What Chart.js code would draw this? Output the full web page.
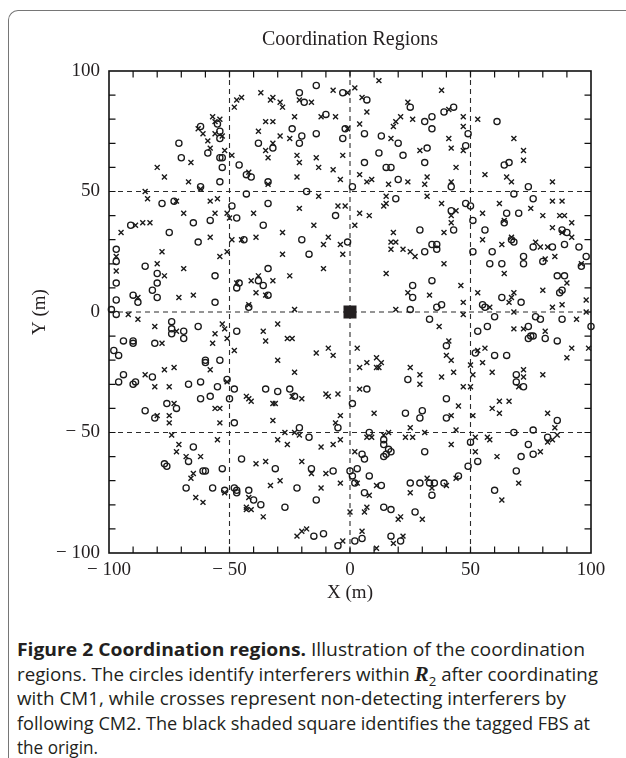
<!DOCTYPE html>
<html>
<head>
<meta charset="utf-8">
<script src="https://cdn.jsdelivr.net/npm/chart.js@4.4.0/dist/chart.umd.min.js"></script>
<style>
  html, body { margin: 0; padding: 0; background: #fff; }
  body { width: 626px; height: 758px; position: relative; overflow: hidden; }
  #frame {
    position: absolute; left: 8px; top: 10px; width: 700px; height: 800px;
    border-top: 1.5px solid #767676; border-left: 1.5px solid #767676;
    border-top-left-radius: 10px; box-sizing: border-box;
  }
  #chartBox { position: absolute; left: 0; top: 0; width: 626px; height: 620px; }
  #caption {
    position: absolute; left: 17px; top: 637px;
    font-family: 'Open Sans', 'Noto Sans', sans-serif; font-size: 18.5px; line-height: 24.5px;
    color: #231f20; white-space: nowrap;
  }
  #caption div { transform-origin: 0 0; width: max-content; }
  #caption b { font-weight: 700; }
  #caption .reg { font-family: 'Liberation Serif', serif; font-style: italic; font-weight: 700; font-size: 21px; }
  #caption sub { font-size: 13px; line-height: 0; }
</style>
</head>
<body>
<div id="frame"></div>
<div id="chartBox"><canvas id="chart" width="626" height="620"></canvas></div>
<div id="caption">
  <div data-w="568"><b>Figure 2 Coordination regions.</b> Illustration of the coordination</div>
  <div data-w="581">regions. The circles identify interferers within <span class="reg">R</span><sub>2</sub> after coordinating</div>
  <div data-w="549">with CM1, while crosses represent non-detecting interferers by</div>
  <div data-w="573">following CM2. The black shaded square identifies the tagged FBS at</div>
  <div data-w="81">the origin.</div>
</div>
<script>
// circles: interferers within R2 after coordinating with CM1
const circleX = [
  -55, -54, -62, -54, -71, -59, -54, -53, -70, -53, -46, -43, -41, -62, -54, -34, -78, -73, -49, -43, -34, -47, -36, -91, -65, -58, -75, -38,
  -14, -3, -21, -19, 7, 25, -10, -2, 6, -24, -20, -14, -3, -21, -32, 13, 20, 31, 34, 34, 6, 12, 22, 32, 31, 15, 17, 1, 20, -18, 19, -6, 29,
  39, 43, 49, 61, 48, 64, 66, 74, 42, 68, 76, 48, 50, 42, 65, 70, 43, 51, 56, 64, 88, 90,
  -63, -44, -97, -97, -97, -97, -99, -97, -85, -80, -80, -82, -90, -88, -80, -56, -56, -34, -47, -46,
  -38, -36, -34, -42, -74, -74, -74, -69, -69, -63, -47, -94, -90, -90, -81, -98, -96, -60, -60, -54,
  -94, -96, -82, -90, -89, -67, -62, -55, -51, -48, -35, -58,
  -20, -1, -17, 31, 34, 26, 26, 34, 25, 33, 24, 7, -30, -25, -23,
  36, 36, 51, 59, 67, 68, 58, 63, 72, 72, 76, 84, 80, 89, 95, 98, 96, 86, 89, 88,
  87, 100, 88, 63, 71, 38, 36, 55, 56, 60, 77, 79, 53, 57, 74, 74, 75, 76, 81, 86,
  40, 52, 60, 65, 69, 69, 72,
  -85, -81, -76, -72, -62, -50, -48, -65, -67, -77, -76, -61, -60, -53, -45, -68, -57, -52, -48, -47, -47, -42, -40, -37,
  1, -5, 23, 30, 29, -21, -17, 8, 14, 14, 16, 17, 15, 14, 31, 5, 6, -31, -16, -7,
  0, 3, 1, 8, 2, -22, 13, 6, 25, 29, 33, 34, -14, -27, 14, 17, 27, -15, -11, -5, 2, 5, 17, 21,
  40, 40, 50, 53, 49, 45, 39, 35, 60, 69, 68, 76, 74, 71, 76, 82, 86
];
const circleY = [
  78, 75, 77, 72, 70, 66, 64, 64, 64, 60, 61, 57, 56, 52, 54, 54, 45, 46, 44, 49, 45, 39, 36, 36, 37, 38, 33, 70,
  94, 91, 91, 87, 88, 85, 82, 76, 74, 76, 73, 74, 72, 70, 68, 73, 70, 79, 81, 76, 62, 66, 65, 68, 62, 60, 60, 52, 55, 50, 47, 40, 34,
  83, 85, 74, 79, 69, 61, 62, 52, 52, 49, 47, 45, 44, 42, 41, 41, 34, 38, 34, 37, 34, 33,
  29, 30, 26, 21, 12, 5, 1, -1, 19, 16, 12, 9, 7, 4, 6, 15, 4, 18, 10, 12,
  13, 11, 7, 2, -4, -7, -9, -8, -11, -6, -8, -12, -12, -13, -13, -16, -18, -20, -21, -20,
  -26, -29, -27, -30, -29, -30, -29, -31, -28, -32, -32, -35,
  30, 29, 24, 25, 28, 11, 6, 13, 1, -3, -28, -32, -33, -32, -35,
  28, 26, 25, 25, 30, 29, 20, 20, 23, 20, 27, 27, 21, 28, 27, 23, 19, 15, 15, 9,
  8, -6, -3, 6, 4, 3, 2, 3, 2, -2, -2, -3, -8, -6, -6, -11, -10, -10, -11, -12,
  -14, -17, -18, -18, -26, -29, -31,
  -41, -44, -38, -40, -36, -36, -46, -56, -62, -63, -64, -66, -66, -65, -61, -73, -73, -74, -73, -74, -75, -74, -78, -80,
  -38, -48, -42, -41, -44, -48, -52, -50, -53, -55, -57, -58, -59, -60, -58, -59, -61, -65, -65, -66,
  -66, -65, -68, -68, -71, -73, -72, -75, -71, -71, -71, -76, -78, -81, -81, -82, -83, -93, -92, -97, -95, -94, -93, -95,
  -36, -44, -54, -62, -64, -68, -71, -71, -74, -66, -50, -49, -55, -60, -59, -52, -45
];

// crosses: non-detecting interferers following CM2
const crossX = [
  -45, -47, -48, -37, -57, -54, -56, -63, -61, -59, -56, -53, -58, -52, -49, -66, -80, -77, -42, -67,
  -62, -34, -85, -84, -72, -58, -55, -69, -56, -51, -50, -40, -89, -86, -83, -95, -35, -38, -35, -34,
  -7, -1, 2, 12, -32, -33, -29, -28, -21, -16, 5, 7, 24, -32, -23, -12, -6, -1, 4, -29,
  -25, -32, 17, 18, 19, 21, 26, -22, -21, -14, -13, -7, -3, 29, -22, -4, 4, 7, 9, 16,
  24, 31, 32, -13, 15, 32, -21, -5, -2, 14, 15, 4, 8, 2, -15, -28, 18,
  38, 41, 47, 47, 53, 41, 42, 47, 68, 72, 72, 44, 56, 65, 67, 84, 42, 38, 84, 88,
  62, 75, 44, 55, 80, 87, 89, 42, 42, 39, 64, 92, 84, 88,
  -58, -49, -45, -39, -97, -97, -78, -80, -77, -88, -69, -71, -65, -54, -51, -47, -41, -38, -39, -35,
  -42, -92, -88, -81, -72, -56, -57, -53, -52, -51, -48, -36, -35, -78, -58, -77, -73, -85, -81, -75, -51, -43,
  -11, -9, -4, -3, -28, -11, -25, -32, -23, 17, 19, 17, 22, 25, 27, 15, 24, 33, 19, -30,
  -26, -24, -14, -9, -7, -30, -23, 3, 7, 11, 13, 11, 12, 4, 25, 29, 29, 4, -10, -5,
  39, 55, 63, 67, 64, 77, 79, 82, 85, 81, 92, 96, 90, 80, 88, 84, 98, 98, 94, 46,
  53, 67, 68, 66, 47, 58, 47, 68, 37, 68, 72, 81, 92, 99, 90, 41, 40, 42, 53, 56,
  50, 51, 55, 59, 43, 38, 72, 72, 70, 80, 47, 50,
  -80, -73, -75, -75, -56, -54, -42, -41, -54, -74, -55, -71, -72, -68, -62, -65, -66, -39, -35, -52,
  -64, -61, -42, -43, -43, -41, -36,
  -20, -32, -31, -9, -24, -32, -4, -6, 10, -27, -23, -30, -26, -21, -12, -7, -4, 7, 9, 14,
  16, 23, 25, 26, 31, 2, -20, -16, -10, 3, -33, -29, -12, -4, 11, 8, 25, 32, 0, 6,
  7, 20, 21, 30, -22, -20, -18, -3, 5, 11, 18, 22,
  45, 59, 62, 62, 66, 42, 51, 44, 42, 52, 52, 57, 58, 61, 44, 40, 34, 63, 70, 79, 82, 82, 84, 86, 85
];
const crossY = [
  89, 88, 85, 91, 81, 80, 79, 76, 74, 71, 74, 73, 68, 67, 65, 62, 60, 56, 58, 54,
  51, 53, 50, 47, 46, 46, 47, 41, 41, 41, 39, 41, 36, 37, 37, 33, 79, 75, 67, 64,
  92, 91, 93, 96, 89, 88, 87, 85, 88, 87, 89, 83, 87, 79, 81, 81, 81, 76, 78, 73,
  72, 70, 72, 77, 79, 81, 80, 65, 62, 64, 60, 59, 65, 67, 56, 55, 57, 54, 55, 53,
  54, 53, 56, 48, 48, 48, 43, 44, 44, 44, 45, 41, 40, 36, 36, 33, 33,
  92, 84, 81, 77, 80, 72, 68, 67, 72, 67, 63, 60, 57, 56, 54, 54, 54, 45, 46, 46,
  45, 43, 42, 41, 40, 40, 40, 40, 37, 33, 38, 37, 35, 33,
  31, 30, 30, 31, 23, 17, 25, 20, 15, 6, 18, 6, 7, 23, 25, 12, 13, 15, 8, 7,
  3, -1, -3, -6, -8, -9, -13, -5, -7, -11, -16, -8, -12, -13, -24, -24, -23, -26, -31, -31, -29, -35,
  28, 31, 28, 24, 24, 18, 15, 13, 1, 29, 29, 26, 26, 25, 23, 16, 8, 7, 1, -5,
  -11, -11, -17, -15, -18, -20, -25, -15, -21, -19, -21, -23, -23, -23, -23, -26, -30, -32, -34, -34,
  20, 30, 28, 31, 16, 29, 27, 27, 23, 22, 31, 20, 12, 9, 3, 2, 5, 0, -3, 11,
  8, 6, 8, 4, 4, 2, -1, 0, -6, -7, -7, -8, -15, -15, -19, -12, -18, -20, -16, -15,
  -22, -26, -21, -25, -25, -27, -24, -27, -31, -26, -31, -31,
  -43, -38, -43, -46, -40, -40, -36, -37, -46, -51, -53, -55, -58, -60, -60, -67, -69, -63, -62, -75,
  -77, -79, -77, -81, -82, -82, -85,
  -36, -38, -38, -35, -35, -45, -43, -46, -42, -50, -50, -53, -55, -51, -56, -55, -53, -52, -52, -51,
  -50, -52, -48, -52, -50, -58, -62, -67, -67, -71, -72, -70, -73, -71, -72, -76, -75, -69, -83, -83,
  -81, -86, -85, -86, -93, -91, -90, -95, -91, -98, -96, -93,
  -39, -40, -37, -42, -37, -43, -43, -49, -55, -52, -58, -52, -53, -60, -69, -72, -73, -78, -71, -58, -42, -54, -53, -51, -48
];

// tagged FBS at the origin
const fbsX = [0];
const fbsY = [0];

const axisMin = -100;
const axisMax = 100;
const labelTicks = [-100, -50, 0, 50, 100];
const gridValues = [-50, 0, 50];
const minorTicks = [-90, -80, -70, -60, -50, -40, -30, -20, -10, 0, 10, 20, 30, 40, 50, 60, 70, 80, 90];

const serif = "'Liberation Serif', 'Times New Roman', serif";
const ink = '#231f20';

function toPoints(xs, ys) {
    return xs.map((v, i) => ({ x: v, y: ys[i] }));
}

function tickText(value) {
    if (!labelTicks.includes(value)) return '';
    return value < 0 ? '\u2212 ' + Math.abs(value) : String(value);
}

// dashed guide lines, inward tick marks and the box around the plot
const frameTicks = {
    id: 'frameTicks',
    beforeDatasetsDraw(chart) {
        const { ctx, chartArea: a, scales: { x, y } } = chart;
        const tl = 6.5;
        ctx.save();
        ctx.strokeStyle = '#2b2b2b';
        ctx.lineWidth = 1.1;
        ctx.setLineDash([5, 4]);
        ctx.beginPath();
        gridValues.forEach(v => {
            const px = x.getPixelForValue(v);
            const py = y.getPixelForValue(v);
            ctx.moveTo(px, a.top); ctx.lineTo(px, a.bottom);
            ctx.moveTo(a.left, py); ctx.lineTo(a.right, py);
        });
        ctx.stroke();

        ctx.setLineDash([]);
        ctx.strokeStyle = '#111';
        ctx.lineWidth = 1.2;
        ctx.beginPath();
        minorTicks.forEach(v => {
            const px = x.getPixelForValue(v);
            const py = y.getPixelForValue(v);
            ctx.moveTo(px, a.bottom); ctx.lineTo(px, a.bottom - tl);
            ctx.moveTo(px, a.top); ctx.lineTo(px, a.top + tl);
            ctx.moveTo(a.left, py); ctx.lineTo(a.left + tl, py);
            ctx.moveTo(a.right, py); ctx.lineTo(a.right - tl, py);
        });
        ctx.stroke();

        ctx.lineWidth = 1.6;
        ctx.strokeRect(a.left, a.top, a.right - a.left, a.bottom - a.top);
        ctx.restore();
    }
};

new Chart(document.getElementById('chart'), {
    type: 'scatter',
    data: {
        datasets: [{
            label: 'CM1',
            data: toPoints(circleX, circleY),
            pointStyle: 'circle',
            pointRadius: 3.1,
            borderWidth: 1.3,
            borderColor: '#1a1a1a',
            backgroundColor: 'rgba(0,0,0,0)',
            clip: false
        }, {
            label: 'CM2',
            data: toPoints(crossX, crossY),
            pointStyle: 'crossRot',
            pointRadius: 3.5,
            borderWidth: 1.4,
            borderColor: '#1a1a1a',
            clip: false
        }, {
            label: 'FBS',
            data: toPoints(fbsX, fbsY),
            pointStyle: 'rect',
            pointRadius: 9.2,
            borderWidth: 0,
            backgroundColor: ink,
            borderColor: ink
        }]
    },
    options: {
        responsive: false,
        animation: false,
        devicePixelRatio: 1,
        events: [],
        layout: { padding: { top: 0, right: 35, bottom: 0, left: 0 } },
        plugins: {
            legend: { display: false },
            tooltip: { enabled: false },
            title: {
                display: true,
                fullSize: false,
                text: 'Coordination Regions',
                color: ink,
                font: { family: serif, size: 20, weight: 'normal' },
                padding: { top: 28, bottom: 19 }
            }
        },
        scales: {
            x: {
                type: 'linear',
                min: axisMin,
                max: axisMax,
                grid: { display: false, drawTicks: false },
                border: { display: false },
                ticks: {
                    stepSize: 10, autoSkip: false, maxRotation: 0, padding: 6,
                    color: ink, font: { family: serif, size: 19 },
                    callback: tickText
                },
                title: {
                    display: true, text: 'X (m)', color: ink,
                    font: { family: serif, size: 19 },
                    padding: { top: 0, bottom: 15.6 }
                },
                afterFit: scale => { scale.height = 67; }
            },
            y: {
                type: 'linear',
                min: axisMin,
                max: axisMax,
                grid: { display: false, drawTicks: false },
                border: { display: false },
                ticks: {
                    stepSize: 10, autoSkip: false, padding: 9,
                    color: ink, font: { family: serif, size: 19 },
                    callback: tickText
                },
                title: {
                    display: true, text: 'Y (m)', color: ink,
                    font: { family: serif, size: 19 },
                    padding: { top: 28.6, bottom: 0 }
                },
                afterFit: scale => { scale.width = 109; }
            }
        }
    },
    plugins: [frameTicks]
});

// fit each caption line to the width it has in the original figure
document.querySelectorAll('#caption div').forEach(line => {
    const natural = line.getBoundingClientRect().width;
    line.style.transform = 'scaleX(' + (Number(line.dataset.w) / natural).toFixed(4) + ')';
});
</script>
</body>
</html>
